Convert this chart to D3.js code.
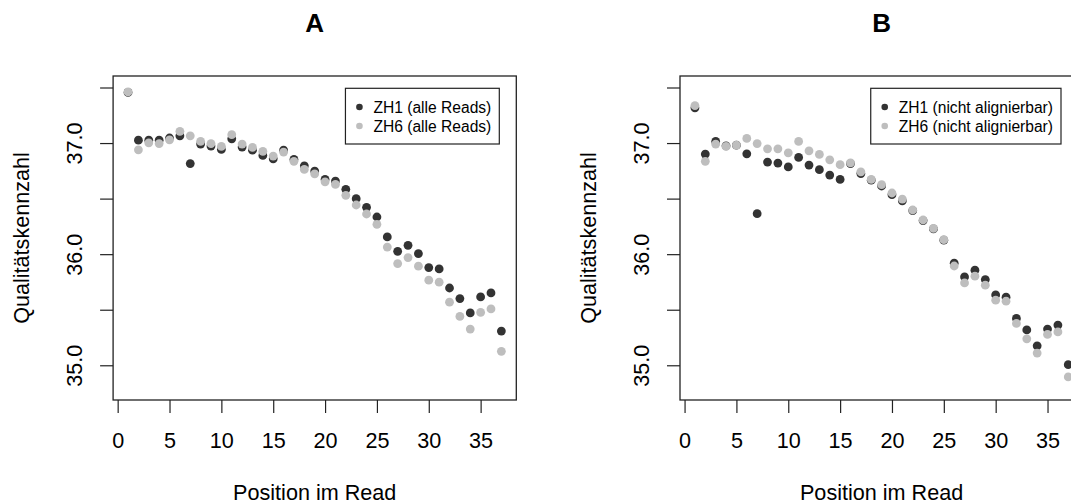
<!DOCTYPE html>
<html>
<head>
<meta charset="utf-8">
<script src="https://cdn.jsdelivr.net/npm/d3@7"></script>
<style>
  body { margin: 0; background: #fff; }
  svg { display: block; font-family: "Liberation Sans", Arial, Helvetica, sans-serif; }
</style>
</head>
<body>
<div id="chart"></div>
<script>
// Positionen im Read
let positions = [1, 2, 3, 4, 5, 6, 7, 8, 9, 10, 11, 12, 13, 14, 15, 16, 17, 18, 19, 20,
    21, 22, 23, 24, 25, 26, 27, 28, 29, 30, 31, 32, 33, 34, 35, 36, 37]

// A: alle Reads
let zh1All = [37.46, 37.03, 37.03, 37.03, 37.05, 37.07, 36.82, 36.995, 36.977, 36.947,
    37.043, 36.968, 36.94, 36.893, 36.863, 36.94, 36.857, 36.80, 36.752, 36.677,
    36.662, 36.588, 36.504, 36.426, 36.339, 36.16, 36.03, 36.084, 36.01, 35.884,
    35.872, 35.70, 35.605, 35.476, 35.62, 35.656, 35.312]
let zh6All = [37.465, 36.944, 37.007, 37.0, 37.034, 37.11, 37.07, 37.02, 37.0, 36.974,
    37.08, 36.995, 36.965, 36.93, 36.887, 36.923, 36.84, 36.767, 36.728, 36.656,
    36.632, 36.534, 36.447, 36.366, 36.273, 36.068, 35.92, 35.974, 35.896, 35.77,
    35.752, 35.572, 35.444, 35.33, 35.48, 35.512, 35.13]

// B: nicht alignierbar
let zh1Nicht = [37.322, 36.905, 37.019, 36.98, 36.985, 36.908, 36.369, 36.833, 36.824, 36.79,
    36.875, 36.806, 36.765, 36.716, 36.677, 36.82, 36.73, 36.67, 36.618, 36.54,
    36.485, 36.397, 36.307, 36.232, 36.13, 35.923, 35.80, 35.86, 35.776, 35.638,
    35.617, 35.426, 35.323, 35.18, 35.33, 35.366, 35.01]
let zh6Nicht = [37.342, 36.84, 36.995, 36.974, 36.986, 37.046, 37.0, 36.953, 36.953, 36.917,
    37.019, 36.935, 36.902, 36.854, 36.81, 36.827, 36.746, 36.677, 36.63, 36.555,
    36.5, 36.402, 36.312, 36.237, 36.135, 35.898, 35.746, 35.806, 35.725, 35.59,
    35.581, 35.381, 35.243, 35.114, 35.282, 35.305, 34.90]

// Achsen
let xTicks = [0, 5, 10, 15, 20, 25, 30, 35]
let yTicks = [35.0, 35.5, 36.0, 36.5, 37.0, 37.5]
let yLabels = ["35.0", "", "36.0", "", "37.0", ""]
let xDomain = [-0.44, 38.44]
let yDomain = [34.692, 37.608]

let width = 1071
let height = 503
let darkColor = "#333333"
let lightColor = "#bebebe"

let panels = [
    { title: "A", left: 113.1, legendRight: 499.3, s1: zh1All, s2: zh6All,
      names: ["ZH1 (alle Reads)", "ZH6 (alle Reads)"] },
    { title: "B", left: 680.0, legendRight: 1061, s1: zh1Nicht, s2: zh6Nicht,
      names: ["ZH1 (nicht alignierbar)", "ZH6 (nicht alignierbar)"] }
]

let svg = d3.select("#chart").append("svg")
    .attr("width", width)
    .attr("height", height)

let plotW = 403.2
let plotTop = 76, plotBottom = 400

function drawPanel(p) {
    let g = svg.append("g")

    let xScale = d3.scaleLinear().domain(xDomain).range([p.left, p.left + plotW])
    let yScale = d3.scaleLinear().domain(yDomain).range([plotBottom, plotTop])

    // x-Achse
    let xAxis = g.append("g")
        .attr("transform", "translate(0," + plotBottom + ")")
        .call(d3.axisBottom(xScale).tickValues(xTicks).tickSize(13).tickPadding(20))
    xAxis.select(".domain").remove()
    xAxis.selectAll("line").attr("stroke", "#222").attr("stroke-width", 1.2)
    xAxis.selectAll("text")
        .attr("font-size", "21.6px")
        .attr("fill", "#000")

    // y-Achse
    let yAxis = g.append("g")
        .attr("transform", "translate(" + p.left + ",0)")
        .call(d3.axisLeft(yScale).tickValues(yTicks).tickSize(13)
            .tickFormat(function (d, i) { return yLabels[i] }))
    yAxis.select(".domain").remove()
    yAxis.selectAll("line").attr("stroke", "#222").attr("stroke-width", 1.2)
    yAxis.selectAll(".tick").attr("transform", null)
    yAxis.selectAll(".tick line")
        .attr("y1", function (d) { return yScale(d) })
        .attr("y2", function (d) { return yScale(d) })
    yAxis.selectAll("text")
        .attr("font-size", "21.6px")
        .attr("fill", "#000")
        .attr("x", null).attr("dy", null)
        .attr("text-anchor", "middle")
        .attr("transform", function (d) { return "translate(-31.5," + yScale(d) + ") rotate(-90)" })

    // Punkte
    g.selectAll(".p1").data(positions).enter().append("circle")
        .attr("cx", function (d) { return xScale(d) })
        .attr("cy", function (d, i) { return yScale(p.s1[i]) })
        .attr("r", 4.4)
        .attr("fill", darkColor)
    g.selectAll(".p2").data(positions).enter().append("circle")
        .attr("cx", function (d) { return xScale(d) })
        .attr("cy", function (d, i) { return yScale(p.s2[i]) })
        .attr("r", 4.4)
        .attr("fill", lightColor)

    // Rahmen
    g.append("rect")
        .attr("x", p.left).attr("y", plotTop)
        .attr("width", plotW).attr("height", plotBottom - plotTop)
        .attr("fill", "none")
        .attr("stroke", "#222")
        .attr("stroke-width", 1.3)

    // Titel und Achsentitel
    let cx = p.left + plotW / 2
    g.append("text")
        .attr("x", cx).attr("y", 31.5)
        .attr("text-anchor", "middle")
        .attr("font-size", "26px")
        .attr("font-weight", "bold")
        .text(p.title)
    g.append("text")
        .attr("x", cx).attr("y", 500)
        .attr("text-anchor", "middle")
        .attr("font-size", "21.6px")
        .text("Position im Read")
    g.append("text")
        .attr("transform", "translate(" + (p.left - 84.5) + "," + ((plotTop + plotBottom) / 2) + ") rotate(-90)")
        .attr("text-anchor", "middle")
        .attr("font-size", "21.6px")
        .text("Qualitätskennzahl")

    // Legende
    let leg = g.append("g")
    let legBox = leg.append("rect")
        .attr("y", 88.3).attr("height", 55.7)
        .attr("fill", "#fff")
        .attr("stroke", "#222")
        .attr("stroke-width", 1.2)
    let maxW = 0
    let colors = [darkColor, lightColor]
    p.names.forEach(function (name, i) {
        let t = leg.append("text")
            .attr("y", 107 + i * 19)
            .attr("dominant-baseline", "central")
            .attr("font-size", "15.6px")
            .text(name)
        maxW = Math.max(maxW, t.node().getComputedTextLength())
    })
    let legLeft = p.legendRight - (28 + maxW + 8)
    legBox.attr("x", legLeft).attr("width", p.legendRight - legLeft)
    leg.selectAll("text").attr("x", legLeft + 28)
    colors.forEach(function (c, i) {
        leg.append("circle")
            .attr("cx", legLeft + 14).attr("cy", 107 + i * 19)
            .attr("r", 3.3)
            .attr("fill", c)
    })
}

panels.forEach(drawPanel)
</script>
</body>
</html>
